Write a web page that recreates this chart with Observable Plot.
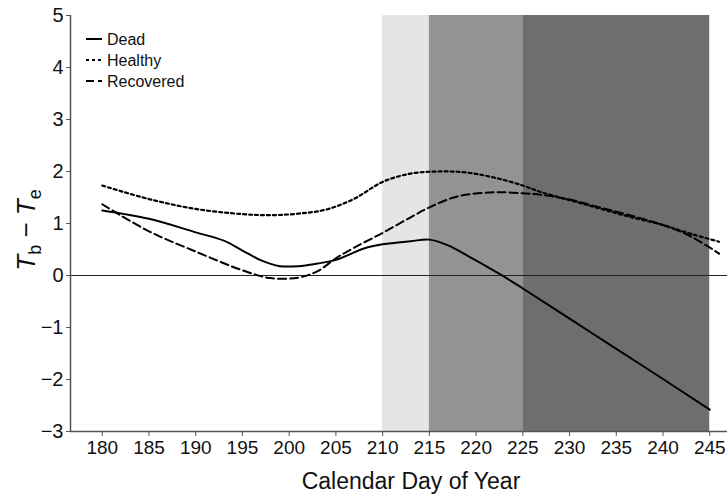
<!DOCTYPE html>
<html>
<head>
<meta charset="utf-8">
<script src="https://cdn.jsdelivr.net/npm/d3@7"></script>
<script src="https://cdn.jsdelivr.net/npm/@observablehq/plot@0.6"></script>
<style>
  html, body { margin: 0; padding: 0; background: #fff; }
  #chart svg { display: block; }
</style>
</head>
<body>
<div id="chart"></div>
<script>
// ---- data ----
const deadDays = [180,185,190,193,195,197,199,201,203,205,208,210,213,215,217,219.4,222.6,225,230,235,240,245];
const deadVals = [1.25,1.09,0.83,0.67,0.48,0.29,0.18,0.18,0.23,0.3,0.52,0.6,0.66,0.69,0.58,0.35,0.02,-0.25,-0.83,-1.41,-1.99,-2.58];

const healthyDays = [180,185,190,195,198,201,204,207,210,213,216,219,222,225,227,230,233,236,240,243,246];
const healthyVals = [1.73,1.47,1.28,1.18,1.16,1.19,1.27,1.48,1.8,1.96,2.0,1.98,1.88,1.73,1.6,1.45,1.3,1.15,0.97,0.8,0.65];

const recoveredDays = [180,185,190,195,198,201,203,205,207,210,213,215,218,222,225,227,230,233,236,240,243,246];
const recoveredVals = [1.37,0.85,0.46,0.1,-0.05,-0.04,0.08,0.33,0.54,0.82,1.12,1.31,1.52,1.6,1.58,1.55,1.46,1.32,1.18,0.97,0.75,0.42];

const bandStart = [210, 215, 225];
const bandEnd = [215, 225, 245];
const bandNames = ["light", "mid", "dark"];

const xTicks = [180,185,190,195,200,205,210,215,220,225,230,235,240,245];
const yTicks = [-3,-2,-1,0,1,2,3,4,5];
const seriesNames = ["Dead", "Healthy", "Recovered"];

// ---- styles ----
const bandColors = {light: "#e5e5e5", mid: "#939393", dark: "#6e6e6e"};
const dashes = {Dead: null, Healthy: "3,3", Recovered: "8,4"};

const mk = (days, vals) => days.map((d, i) => ({day: d, v: vals[i]}));
const dead = mk(deadDays, deadVals);
const healthy = mk(healthyDays, healthyVals);
const recovered = mk(recoveredDays, recoveredVals);
const bands = bandStart.map((s, i) => ({x1: s, x2: bandEnd[i], name: bandNames[i]}));

const xMin = 176.6, xMax = 246.9;

const plot = Plot.plot({
  width: 728,
  height: 499,
  marginLeft: 70,
  marginRight: 1,
  marginTop: 15,
  marginBottom: 68,
  style: {fontFamily: "'Liberation Sans', Arial, sans-serif", fontSize: "18px", color: "#111", background: "#fff"},
  x: {domain: [xMin, xMax], label: null},
  y: {domain: [-3, 5], label: null},
  marks: [
    Plot.rect(bands, {x1: "x1", x2: "x2", y1: -3, y2: 5, fill: d => bandColors[d.name]}),
    Plot.ruleY([0], {stroke: "#222", strokeWidth: 1.2}),
    Plot.line(dead, {x: "day", y: "v", stroke: "#000", strokeWidth: 2, curve: "catmull-rom"}),
    Plot.line(healthy, {x: "day", y: "v", stroke: "#000", strokeWidth: 2.2, strokeDasharray: dashes.Healthy, curve: "catmull-rom"}),
    Plot.line(recovered, {x: "day", y: "v", stroke: "#000", strokeWidth: 2, strokeDasharray: dashes.Recovered, curve: "catmull-rom"}),
    Plot.ruleY([-3], {stroke: "#555", strokeWidth: 1.5}),
    Plot.ruleX([xMin], {stroke: "#555", strokeWidth: 1.5}),
    Plot.axisX({ticks: xTicks, tickSize: 5, tickPadding: 4, stroke: "#555", label: null}),
    Plot.axisY({ticks: yTicks, tickSize: 4, tickPadding: 3, stroke: "#555", label: null})
  ]
});

document.getElementById("chart").appendChild(plot);

const svg = d3.select(plot);
const ff = "'Liberation Sans', Arial, sans-serif";

// enlarge tick labels
svg.selectAll('g[aria-label="x-axis tick label"]').attr("font-size", 19).selectAll("text").style("font-size", "19px").attr("fill", "#111");
svg.selectAll('g[aria-label="y-axis tick label"]').attr("font-size", 20).selectAll("text").style("font-size", "20px").attr("fill", "#111");

// axis titles
svg.append("text")
  .attr("x", 411).attr("y", 489)
  .attr("text-anchor", "middle")
  .attr("font-family", ff).style("font-size", "23px").attr("fill", "#111")
  .text("Calendar Day of Year");

const yl = svg.append("text")
  .attr("transform", "translate(35,230) rotate(-90)")
  .attr("text-anchor", "middle")
  .attr("font-family", ff).style("font-size", "26px").attr("fill", "#111");
yl.append("tspan").attr("font-style", "italic").text("T");
yl.append("tspan").style("font-size", "18px").attr("dy", 6).text("b");
yl.append("tspan").attr("dy", -6).text(" \u2212 ");
yl.append("tspan").attr("font-style", "italic").text("T");
yl.append("tspan").style("font-size", "18px").attr("dy", 6).text("e");

// legend
const lg = svg.append("g").attr("text-anchor", "start");
seriesNames.forEach((name, i) => {
  const y = 39 + i * 21;
  lg.append("line")
    .attr("x1", 86).attr("x2", 102).attr("y1", y).attr("y2", y)
    .attr("stroke", "#000").attr("stroke-width", 2)
    .attr("stroke-dasharray", dashes[name]);
  lg.append("text")
    .attr("x", 107).attr("y", y).attr("dy", "0.36em")
    .attr("text-anchor", "start")
    .attr("font-family", ff).style("font-size", "16px").attr("fill", "#111")
    .text(name);
});
</script>
</body>
</html>
